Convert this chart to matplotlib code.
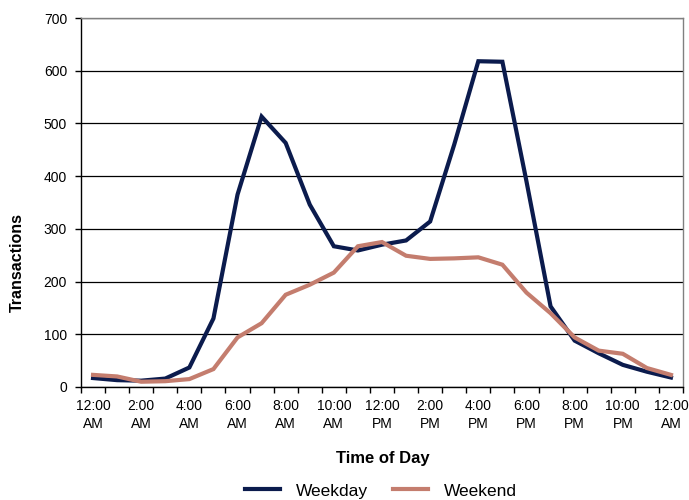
import matplotlib
matplotlib.use("Agg")
import matplotlib.pyplot as plt
import numpy as np

plt.rcParams['font.family'] = ['Liberation Sans', 'DejaVu Sans']

hours = list(range(25))
weekday = [17, 13, 12, 16, 37, 130, 365, 513, 463, 346, 267, 259, 270, 278, 314,
           460, 618, 617, 390, 153, 88, 64, 42, 29, 18]
weekend = [23, 20, 10, 11, 15, 34, 94, 121, 175, 194, 217, 267, 275, 249, 243,
           244, 246, 232, 179, 140, 94, 69, 63, 36, 23]
tick_labels = ["12:00\nAM", "2:00\nAM", "4:00\nAM", "6:00\nAM", "8:00\nAM", "10:00\nAM",
               "12:00\nPM", "2:00\nPM", "4:00\nPM", "6:00\nPM", "8:00\nPM", "10:00\nPM",
               "12:00\nAM"]
y_ticks = [0, 100, 200, 300, 400, 500, 600, 700]

W, H = 689, 500
fig = plt.figure(figsize=(W/100, H/100), dpi=100)
ax = fig.add_axes([81/W, 1-387/H, (683-81)/W, (387-18)/H])

ax.plot(hours, weekday, color='#0B1B4D', lw=3.0, label='Weekday', solid_joinstyle='miter', zorder=3)
ax.plot(hours, weekend, color='#C47D6E', lw=3.0, label='Weekend', solid_joinstyle='miter', zorder=3)

ax.set_xlim(-0.5, 24.5)
ax.set_ylim(0, 700)
ax.set_yticks(y_ticks)
ax.set_yticklabels([str(v) for v in y_ticks], fontsize=10)
ax.yaxis.grid(True, color='black', lw=0.9)
ax.set_axisbelow(True)

ax.set_xticks(hours[::2])
ax.set_xticklabels(tick_labels, fontsize=10, linespacing=1.3)
ax.tick_params(axis='x', which='major', length=0, pad=9)
ax.set_xticks(np.arange(-0.5, 25, 1), minor=True)
ax.tick_params(axis='x', which='minor', length=4, direction='out', width=1, color='black')
ax.tick_params(axis='y', length=4, direction='out', width=1, pad=6)

for s in ['top', 'right']:
    ax.spines[s].set_color('#808080')
    ax.spines[s].set_linewidth(1)
for s in ['left', 'bottom']:
    ax.spines[s].set_color('black')
    ax.spines[s].set_linewidth(1)

fig.text(383/W, 1-458/H, 'Time of Day', fontsize=12, fontweight='bold', ha='center', va='center')
fig.text(17/W, 1-262/H, 'Transactions', fontsize=11.5, fontweight='bold', ha='center', va='center',
         rotation=90)

fig.legend(loc='center', bbox_to_anchor=(381/W, 1-491/H), ncol=2, frameon=False,
           fontsize=12.5, handlelength=2.0, columnspacing=1.45, handletextpad=0.92,
           borderpad=0, borderaxespad=0)

fig.savefig('out.png', dpi=100)
